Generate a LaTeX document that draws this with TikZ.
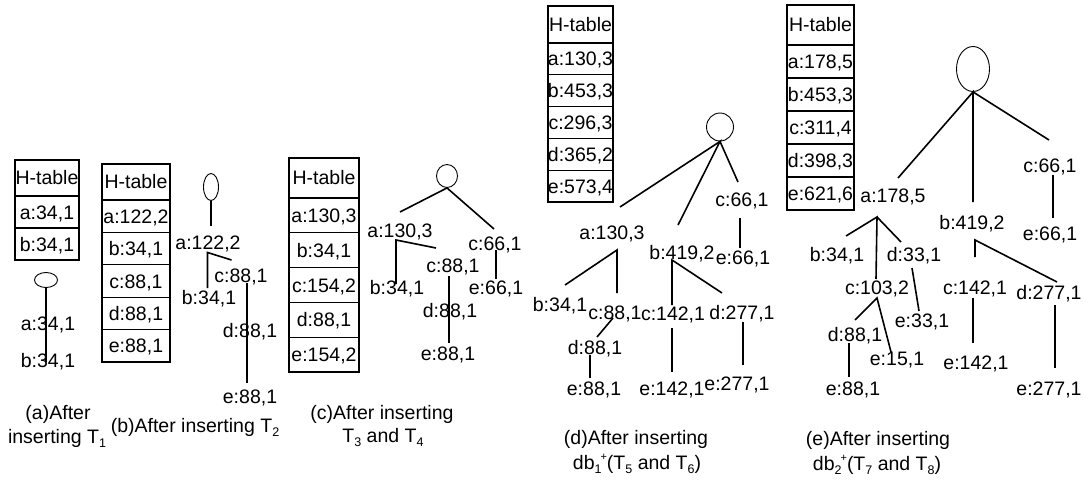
\documentclass[tikz,border=0pt]{standalone}
\usepackage{fontspec}
\setmainfont{Liberation Sans}
\usetikzlibrary{shapes.geometric}
\newcommand\fsz{\fontsize{19.5}{24}\selectfont}
\newcommand\mysub[1]{\raisebox{-4.5pt}{\fontsize{12.5}{12}\selectfont #1}}
\newcommand\myplus{\raisebox{9pt}{\fontsize{11}{11}\selectfont +}}
\tikzset{
  lbl/.style={inner sep=0pt, font=\fsz, text height=14pt, text depth=0pt},
  cell/.style={draw, line width=1.1pt, inner sep=0pt, font=\fsz, text height=14pt, text depth=0pt},
  rootnode/.style={draw, ellipse, line width=0.9pt, inner sep=0pt},
  edge/.style={line width=1.6pt},
}
% #1 prefix, #2 x centre, #3 top, #4 width, #5 header height, #6 row height, #7 entries
\newcommand\mytable[7]{%
  \node[cell, minimum width=#4pt, minimum height=#5pt] (#1h) at (#2,{#3+#5/2}) {H-table};
  \foreach \t [count=\i] in {#7} {
    \node[cell, minimum width=#4pt, minimum height=#6pt] (#1\i) at (#2,{#3+#5+(\i-0.5)*#6}) {\t};
  }
}
\begin{document}
\begin{tikzpicture}[x=1pt,y=-1pt]
\useasboundingbox[fill=white] (0,0) rectangle (1086,481);

% ---------------- (a)
\mytable{ta}{47}{160}{64}{36}{32}{{a:34,1},{b:34,1}}
\node[rootnode, minimum width=23pt, minimum height=15pt] (ra) at (46,280) {};
\node[lbl] (a1) at (48,323) {a:34,1};
\node[lbl] (a2) at (48,360) {b:34,1};
\coordinate (a1t) at (46,330);
\coordinate (a2t) at (46,362);
\draw[edge] (ra.south) -- (a1t) -- (a2t);
\node[lbl] (capa1) at (58,412) {(a)After};
\node[lbl] (capa2) at (57,436) {inserting T\mysub{1}};

% ---------------- (b)
\mytable{tb}{136}{164}{68}{36}{32.4}{{a:122,2},{b:34,1},{c:88,1},{d:88,1},{e:88,1}}
\node[rootnode, minimum width=15pt, minimum height=27pt] (rb) at (211,187) {};
\node[lbl] (b1) at (208,242) {a:122,2};
\node[lbl] (b2) at (241,275) {c:88,1};
\node[lbl] (b3) at (209,297) {b:34,1};
\node[lbl] (b4) at (250,330) {d:88,1};
\node[lbl] (b5) at (250,396) {e:88,1};
\coordinate (b1t) at (211,226);
\coordinate (b1x) at (207.5,252.5);
\coordinate (b2t) at (231.5,260);
\coordinate (b3t) at (207.5,288);
\coordinate (b2b) at (247,283);
\coordinate (b4m) at (247,330);
\coordinate (b5t) at (247,383);
\draw[edge] (rb.south) -- (b1t);
\draw[edge] (b3t) -- (b1x) -- (b2t);
\draw[edge] (b2b) -- (b4m);
\draw[edge] (b4m) -- (b5t);
\node[lbl] (capb) at (195,425) {(b)After inserting T\mysub{2}};

% ---------------- (c)
\mytable{tc}{324}{158}{70}{40}{34.8}{{a:130,3},{b:34,1},{c:154,2},{d:88,1},{e:154,2}}
\node[rootnode, minimum width=21pt, minimum height=23pt] (rc) at (447,176) {};
\node[lbl] (c1) at (400,230) {a:130,3};
\node[lbl] (c2) at (453,265) {c:88,1};
\node[lbl] (c3) at (397,287) {b:34,1};
\node[lbl] (c4) at (450,310) {d:88,1};
\node[lbl] (c5) at (448,353) {e:88,1};
\node[lbl] (c6) at (495,243) {c:66,1};
\node[lbl] (c7) at (496,287) {e:66,1};
\coordinate (c1t) at (400,212);
\coordinate (c6t) at (494,229);
\coordinate (c1x) at (396,240);
\coordinate (c2t) at (436,248);
\coordinate (c3t) at (396,284);
\coordinate (c2b) at (449,276);
\coordinate (c4m) at (449,310);
\coordinate (c5t) at (449,343);
\coordinate (c6b) at (496,250);
\coordinate (c7t) at (496,279);
\draw[edge] (c1t) -- (rc.south) -- (c6t);
\draw[edge] (c3t) -- (c1x) -- (c2t);
\draw[edge] (c2b) -- (c4m);
\draw[edge] (c4m) -- (c5t);
\draw[edge] (c6b) -- (c7t);
\node[lbl] (capc1) at (382,412) {(c)After inserting};
\node[lbl] (capc2) at (383,435) {T\mysub{3} and T\mysub{4}};

% ---------------- (d)
\mytable{td}{580.5}{6}{65}{37}{31.8}{{a:130,3},{b:453,3},{c:296,3},{d:365,2},{e:573,4}}
\node[rootnode, minimum width=27pt, minimum height=28pt] (rd) at (720,127) {};
\node[lbl] (d1) at (612,232) {a:130,3};
\node[lbl] (d2) at (682,252) {b:419,2};
\node[lbl] (d3) at (742,200) {c:66,1};
\node[lbl] (d4) at (743,257) {e:66,1};
\node[lbl] (d5) at (560,304) {b:34,1};
\node[lbl] (d6) at (615,312) {c:88,1};
\node[lbl] (d7) at (595,347) {d:88,1};
\node[lbl] (d8) at (594,388) {e:88,1};
\node[lbl] (d9) at (673,313) {c:142,1};
\node[lbl] (d10) at (742,312) {d:277,1};
\node[lbl] (d11) at (672,388) {e:142,1};
\node[lbl] (d12) at (737,383) {e:277,1};
\coordinate (d1t) at (620,207);
\coordinate (d2t) at (678,225);
\coordinate (d3t) at (738,182);
\coordinate (d3b) at (740,218);
\coordinate (d4t) at (740,248);
\coordinate (d1x) at (617,250);
\coordinate (d5t) at (565,285);
\coordinate (d6t) at (617,293);
\coordinate (d6b) at (613,318);
\coordinate (d7t) at (597,337);
\coordinate (d7b) at (590,355);
\coordinate (d8t) at (590,378);
\coordinate (d2x) at (672,260);
\coordinate (d9t) at (672,305);
\coordinate (d10t) at (722,293);
\coordinate (d9b) at (672,328);
\coordinate (d11t) at (672,372);
\coordinate (d10b) at (743,322);
\coordinate (d12t) at (743,365);
\draw[edge] (d1t) -- (rd.south) -- (d2t);
\draw[edge] (rd.south) -- (d3t);
\draw[edge] (d3b) -- (d4t);
\draw[edge] (d5t) -- (d1x) -- (d6t);
\draw[edge] (d6b) -- (d7t);
\draw[edge] (d7b) -- (d8t);
\draw[edge] (d9t) -- (d2x) -- (d10t);
\draw[edge] (d9b) -- (d11t);
\draw[edge] (d10b) -- (d12t);
\node[lbl] (capd1) at (636,437) {(d)After inserting};
\node[lbl] (capd2) at (637,462) {db\mysub{1}\kern-1pt\myplus(T\mysub{5} and T\mysub{6})};

% ---------------- (e)
\mytable{te}{820.5}{5}{67}{40}{33}{{a:178,5},{b:453,3},{c:311,4},{d:398,3},{e:621,6}}
\node[rootnode, minimum width=33pt, minimum height=45pt] (re) at (973,69) {};
\node[lbl] (e1) at (893,196) {a:178,5};
\node[lbl] (e2) at (972,222) {b:419,2};
\node[lbl] (e3) at (1050,165) {c:66,1};
\node[lbl] (e4) at (1050,233) {e:66,1};
\node[lbl] (e5) at (837,254) {b:34,1};
\node[lbl] (e6) at (914,254) {d:33,1};
\node[lbl] (e7) at (877,287) {c:103,2};
\node[lbl] (e8) at (922,320) {e:33,1};
\node[lbl] (e9) at (855,334) {d:88,1};
\node[lbl] (e10) at (897,358) {e:15,1};
\node[lbl] (e11) at (853,388) {e:88,1};
\node[lbl] (e12) at (975,287) {c:142,1};
\node[lbl] (e13) at (1049,292) {d:277,1};
\node[lbl] (e14) at (976,362) {e:142,1};
\node[lbl] (e15) at (1049,388) {e:277,1};
\coordinate (e1t) at (898,178);
\coordinate (e2t) at (973,202);
\coordinate (e3t) at (1049,140);
\coordinate (e3b) at (1053,175);
\coordinate (e4t) at (1053,218);
\coordinate (e1x) at (877,217);
\coordinate (e5t) at (846,236);
\coordinate (e7t) at (876,279);
\coordinate (e6t) at (901,242);
\coordinate (e6b) at (912,268);
\coordinate (e8t) at (919,311);
\coordinate (e7x) at (877,298);
\coordinate (e9t) at (855,320);
\coordinate (e10t) at (891,352);
\coordinate (e9b) at (849,343);
\coordinate (e11t) at (849,377);
\coordinate (e2x) at (975,240);
\coordinate (e12t) at (975,257);
\coordinate (e13t) at (1057,282);
\coordinate (e12b) at (973,298);
\coordinate (e14t) at (973,343);
\coordinate (e13b) at (1055,305);
\coordinate (e15t) at (1055,368);
\draw[edge] (e1t) -- (re.south) -- (e2t);
\draw[edge] (re.south) -- (e3t);
\draw[edge] (e3b) -- (e4t);
\draw[edge] (e5t) -- (e1x) -- (e7t);
\draw[edge] (e1x) -- (e6t);
\draw[edge] (e6b) -- (e8t);
\draw[edge] (e9t) -- (e7x) -- (e10t);
\draw[edge] (e9b) -- (e11t);
\draw[edge] (e12t) -- (e2x) -- (e13t);
\draw[edge] (e12b) -- (e14t);
\draw[edge] (e13b) -- (e15t);
\node[lbl] (cape1) at (878,438) {(e)After inserting};
\node[lbl] (cape2) at (877,463) {db\mysub{2}\kern-1pt\myplus(T\mysub{7} and T\mysub{8})};
\end{tikzpicture}
\end{document}
